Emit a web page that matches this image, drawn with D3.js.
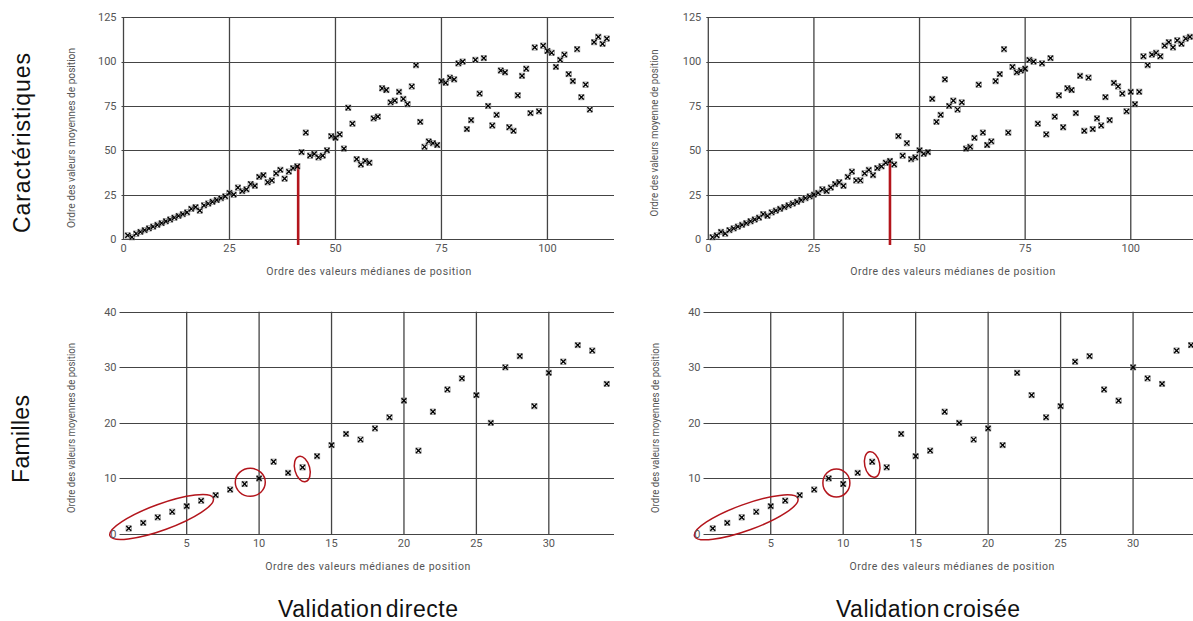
<!DOCTYPE html>
<html>
<head>
<meta charset="utf-8">
<script src="https://cdn.jsdelivr.net/npm/d3@7"></script>
<style>
  html, body { margin: 0; padding: 0; background: #fff; }
  svg { display: block; }
</style>
</head>
<body>
<svg id="chart" width="1193" height="621"></svg>
<script>
// ---- Data ----
// Top row: "Caractéristiques" (ranks 1..114), y = order of mean position values
const caracDirecte = [2,1,3,4,5,6,7,8,9,10,11,12,13,14,15,17,18,16,19,20,21,22,23,24,26,25,29,27,28,31,30,35,36,32,33,37,39,34,38,40,41,49,60,47,48,46,47,50,58,57,59,51,74,65,45,42,44,43,68,69,85,84,77,78,83,79,76,86,98,66,52,55,54,53,89,88,91,90,99,100,62,67,101,82,102,75,64,70,95,94,63,61,81,92,96,71,108,72,109,106,105,97,101,104,93,89,107,80,87,73,111,114,110,113];
const caracCroisee = [1,2,4,3,5,6,7,8,9,10,11,12,14,13,15,16,17,18,19,20,21,22,23,24,25,26,28,27,29,31,32,30,35,38,33,33,37,39,36,40,41,43,44,42,58,47,54,45,46,50,48,49,79,66,70,90,75,78,73,77,51,52,57,87,60,53,55,89,93,107,60,97,94,95,96,101,100,65,99,59,102,69,81,63,85,84,71,92,61,91,62,68,64,80,67,88,86,82,72,83,76,83,103,98,104,105,103,109,111,108,112,110,113,114];
// Bottom row: "Familles" (ranks 1..34)
const famDirecte = [1,2,3,4,5,6,7,8,9,10,13,11,12,14,16,18,17,19,21,24,15,22,26,28,25,20,30,32,23,29,31,34,33,27];
const famCroisee = [1,2,3,4,5,6,7,8,10,9,11,13,12,18,14,15,22,20,17,19,16,29,25,21,23,31,32,26,24,30,28,27,33,34];

// Tick labels
const topXTicks = [0,25,50,75,100];
const topYTicks = [0,25,50,75,100,125];
const botXTicks = [5,10,15,20,25,30];
const botYTicks = [0,10,20,30,40];

// Cut-off markers (red vertical lines, top row) : [x, yTop]
const cutDirecte = [41.2, 41.8];
const cutCroisee = [43.0, 43.6];
// Highlighted groups (red ellipses, bottom row): centre in data units
const ellDirecte = [[3.27, 3.06], [9.39, 9.3], [12.98, 11.7]];
const ellCroisee = [[3.31, 3.0], [9.53, 9.18], [12.0, 12.5]];

// Texts
const rowLabels = ["Caractéristiques", "Familles"];
const colLabels = ["Validation directe", "Validation croisée"];
const xTitle = "Ordre des valeurs médianes de position";
const yTitles = ["Ordre des valeurs moyennes de position", "Ordre des valeurs moyenne de position",
                 "Ordre des valeurs moyennes de position", "Ordre des valeurs moyennes de position"];

// ---- Drawing ----
const svg = d3.select("#chart");
const GRID = "#444", TICKCOL = "#555", RED = "#b3151c";
const FONT = "Roboto, 'Liberation Sans', Arial, sans-serif";

function panel(opt) {
  const g = svg.append("g");
  const x = d3.scaleLinear().domain(opt.xDomain).range(opt.xRange);
  const y = d3.scaleLinear().domain(opt.yDomain).range(opt.yRange);
  const [x0, x1] = opt.xRange, [y0, y1] = opt.yRange;

  // horizontal gridlines
  g.selectAll(".hg").data(opt.yTicks).join("line")
    .attr("x1", x0 - 2).attr("x2", x1)
    .attr("y1", d => Math.round(y(d)) + 0.5).attr("y2", d => Math.round(y(d)) + 0.5)
    .attr("stroke", GRID).attr("stroke-width", 1);
  // vertical gridlines
  g.selectAll(".vg").data(opt.xTicks).join("line")
    .attr("x1", d => x(d)).attr("x2", d => x(d))
    .attr("y1", y0).attr("y2", y1)
    .attr("stroke", GRID).attr("stroke-width", 1.3);

  // ellipses (under labels)
  if (opt.ellipses) {
    const shapes = opt.ellipseShapes;
    g.selectAll(".el").data(opt.ellipses).join("ellipse")
      .attr("transform", (d, i) => `translate(${x(d[0])},${y(d[1])}) rotate(${shapes[i][2]})`)
      .attr("rx", (d, i) => shapes[i][0]).attr("ry", (d, i) => shapes[i][1])
      .attr("fill", "none").attr("stroke", RED).attr("stroke-width", 1.5);
  }

  // tick labels
  g.selectAll(".yt").data(opt.yTicks).join("text")
    .attr("x", x0 - opt.yTickGap).attr("y", d => y(d)).attr("dy", "0.35em")
    .attr("text-anchor", "end").attr("font-family", FONT).attr("font-size", 11)
    .attr("fill", TICKCOL).text(d => d);
  g.selectAll(".xt").data(opt.xTicks).join("text")
    .attr("x", d => x(d)).attr("y", y0 + 13).attr("text-anchor", "middle")
    .attr("font-family", FONT).attr("font-size", 11).attr("fill", TICKCOL).text(d => d);

  // axis titles
  g.append("text").attr("x", (x0 + x1) / 2).attr("y", y0 + 36)
    .attr("text-anchor", "middle").attr("font-family", FONT).attr("font-size", 10.5)
    .attr("fill", "#555").attr("textLength", 205).text(xTitle);
  g.append("text")
    .attr("transform", `translate(${opt.yTitleX},${opt.yTitleY}) rotate(-90)`)
    .attr("text-anchor", "middle").attr("dy", "0.35em")
    .attr("font-family", FONT).attr("font-size", 10)
    .attr("fill", "#555").attr("textLength", opt.yTitleLen).attr("lengthAdjust", "spacingAndGlyphs")
    .text(opt.yTitle);

  // red cut line
  if (opt.cut) {
    g.append("line").attr("x1", x(opt.cut[0])).attr("x2", x(opt.cut[0]))
      .attr("y1", y0 + 6).attr("y2", y(opt.cut[1]))
      .attr("stroke", RED).attr("stroke-width", 2.6);
  }

  // markers
  const pts = opt.values.map((v, i) => [i + 1, v]);
  const mk = g.selectAll(".mk").data(pts).join("g")
    .attr("transform", d => `translate(${x(d[0])},${y(d[1])})`);
  mk.append("rect").attr("x", -2.7).attr("y", -2.7).attr("width", 5.4).attr("height", 5.4)
    .attr("fill", "none").attr("stroke", "#8a8a8a").attr("stroke-width", 0.7);
  mk.append("path").attr("d", "M-2.4,-2.4L2.4,2.4M-2.4,2.4L2.4,-2.4")
    .attr("stroke", "#000").attr("stroke-width", 1.4).attr("fill", "none");
}

// Top-left
panel({ xDomain: [0, 115.7], xRange: [123.5, 614], yDomain: [0, 125], yRange: [239, 17.3],
  xTicks: topXTicks, yTicks: topYTicks, values: caracDirecte, cut: cutDirecte, yTickGap: 7,
  yTitle: yTitles[0], yTitleX: 71, yTitleY: 138, yTitleLen: 180 });
// Top-right
panel({ xDomain: [0, 115.7], xRange: [708.3, 1197.1], yDomain: [0, 125], yRange: [239, 17.3],
  xTicks: topXTicks, yTicks: topYTicks, values: caracCroisee, cut: cutCroisee, yTickGap: 7,
  yTitle: yTitles[1], yTitleX: 654.5, yTitleY: 133, yTitleLen: 167 });
// Bottom-left
panel({ xDomain: [0.5, 34.5], xRange: [121.5, 614], yDomain: [0, 40], yRange: [534, 311.7],
  xTicks: botXTicks, yTicks: botYTicks, values: famDirecte, yTickGap: 5,
  ellipses: ellDirecte, ellipseShapes: [[55, 13, -20], [15, 14, 0], [7.5, 13, -15]],
  yTitle: yTitles[2], yTitleX: 71.5, yTitleY: 428, yTitleLen: 170 });
// Bottom-right
panel({ xDomain: [0.5, 34.5], xRange: [705.5, 1198.3], yDomain: [0, 40], yRange: [534, 311.7],
  xTicks: botXTicks, yTicks: botYTicks, values: famCroisee, yTickGap: 5,
  ellipses: ellCroisee, ellipseShapes: [[55, 13, -20], [13.5, 14, 0], [7.5, 13, -12]],
  yTitle: yTitles[3], yTitleX: 655, yTitleY: 428, yTitleLen: 170 });

// Row labels
const BIG = "'Liberation Sans', Arial, sans-serif";
[[21.5, 143, 180], [21, 439, 88]].forEach((p, i) => {
  svg.append("text").attr("transform", `translate(${p[0]},${p[1]}) rotate(-90)`)
    .attr("text-anchor", "middle").attr("dy", "0.35em")
    .attr("font-family", BIG).attr("font-size", 23).attr("fill", "#111")
    .attr("textLength", p[2]).text(rowLabels[i]);
});
// Column labels
[[368, 180], [928, 184]].forEach((p, i) => {
  svg.append("text").attr("x", p[0]).attr("y", 617).attr("text-anchor", "middle")
    .attr("font-family", BIG).attr("font-size", 23).attr("fill", "#111")
    .attr("textLength", p[1]).attr("word-spacing", -4).text(colLabels[i]);
});
</script>
</body>
</html>
